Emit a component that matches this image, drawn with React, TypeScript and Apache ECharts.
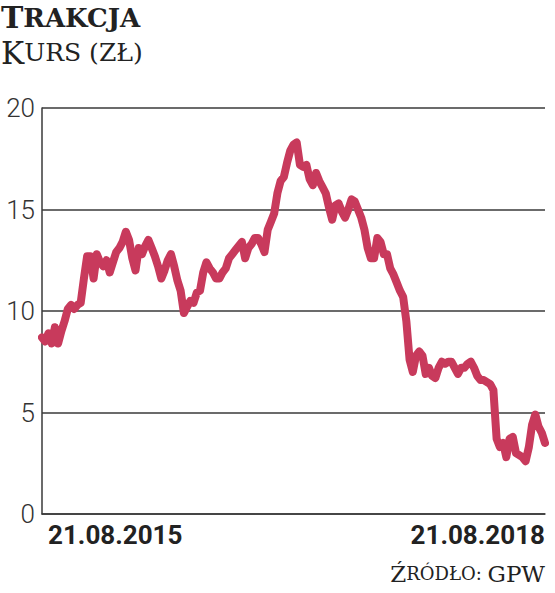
import { useEffect, useRef } from 'react';
import * as echarts from 'echarts';

// weekly closing price, 21.08.2015 .. 21.08.2018
const prices = [
  8.7, 8.5, 8.9, 8.4, 9.2, 8.4, 9.0, 9.5, 10.1, 10.3,
  10.1, 10.3, 10.4, 11.6, 12.7, 12.7, 11.6, 12.8, 12.4, 12.2,
  12.5, 11.9, 12.4, 12.9, 13.1, 13.4, 13.9, 13.5, 12.6, 12.0,
  13.1, 12.8, 13.2, 13.5, 13.1, 12.7, 12.2, 11.6, 12.0, 12.5,
  12.8, 12.2, 11.5, 11.0, 9.9, 10.2, 10.5, 10.4, 10.9, 11.0,
  11.9, 12.4, 12.1, 11.9, 11.6, 11.6, 11.9, 12.1, 12.6, 12.8,
  13.0, 13.2, 13.4, 12.6, 13.1, 13.3, 13.6, 13.6, 13.3, 12.9,
  14.0, 14.4, 14.8, 15.8, 16.4, 16.6, 17.3, 17.9, 18.2, 18.3,
  17.2, 17.1, 17.2, 16.5, 16.2, 16.8, 16.4, 16.1, 15.8, 15.1,
  14.5, 15.2, 15.3, 14.9, 14.6, 15.0, 15.5, 15.4, 15.0, 14.6,
  14.0, 13.1, 12.6, 12.6, 13.6, 13.4, 12.8, 12.8, 12.1, 11.8,
  11.4, 11.0, 10.7, 9.5, 7.6, 7.0, 7.8, 8.0, 7.8, 6.9,
  7.2, 6.8, 6.7, 7.2, 7.5, 7.4, 7.5, 7.5, 7.2, 6.9,
  7.2, 7.2, 7.4, 7.5, 7.2, 6.8, 6.6, 6.6, 6.5, 6.4,
  6.1, 3.7, 3.3, 3.5, 2.8, 3.7, 3.8, 3.0, 2.9, 2.8,
  2.6, 3.3, 4.4, 4.9, 4.3, 4.0, 3.5,
];

const startLabel = '21.08.2015';
const endLabel = '21.08.2018';
const yTicks = [0, 5, 10, 15, 20];

const titleText = 'Trakcja';
const subtitleText = 'Kurs (zł)';
const sourceText = 'Źródło: GPW';

const LINE = '#c83a5c';
const INK = '#222';
const GRIDC = '#3a3a3a';

// small caps: capitals stay big, lower-case letters become smaller capitals
function smallCaps(text: string, big: string, small: string) {
  let out = '';
  let run = '';
  let runBig = false;
  const flush = () => {
    if (run) out += `{${runBig ? big : small}|${run}}`;
    run = '';
  };
  for (const ch of text) {
    const isBig = ch !== ch.toLowerCase();
    if (isBig !== runBig) {
      flush();
      runBig = isBig;
    }
    run += ch.toUpperCase();
  }
  flush();
  return out;
}

export default function App() {
  const chartRef = useRef<HTMLDivElement | null>(null);

  useEffect(() => {
    document.body.style.margin = '0';
    if (!chartRef.current) return;
    const chart = echarts.init(chartRef.current, null, { renderer: 'svg' });

    const last = prices.length - 1;
    const categories = prices.map((_, i) =>
      i === 0 ? startLabel : i === last ? endLabel : String(i)
    );

    const serif = 'DejaVu Serif';

    chart.setOption({
      animation: false,
      backgroundColor: '#fff',
      title: [
        {
          left: 1,
          top: 0,
          padding: 0,
          text:
            smallCaps(titleText, 'tb', 'ts') + '\n' + smallCaps(subtitleText, 'kb', 'ks'),
          textStyle: {
            rich: {
              tb: { fontFamily: serif, fontWeight: 'bold', fontSize: 30, lineHeight: 35, color: INK },
              ts: { fontFamily: serif, fontWeight: 'bold', fontSize: 26, lineHeight: 35, color: INK },
              kb: { fontFamily: serif, fontWeight: 'normal', fontSize: 31, lineHeight: 35, color: INK },
              ks: { fontFamily: serif, fontWeight: 'normal', fontSize: 25, lineHeight: 35, color: INK },
            },
          },
        },
        {
          right: 10,
          top: 562,
          padding: 0,
          text: smallCaps(sourceText, 'sb', 'ss'),
          textStyle: {
            rich: {
              sb: { fontFamily: serif, fontWeight: 'normal', fontSize: 23, color: INK },
              ss: { fontFamily: serif, fontWeight: 'normal', fontSize: 18, color: INK },
            },
          },
        },
      ],
      grid: { left: 42, right: 10, top: 108, bottom: 79 },
      xAxis: {
        type: 'category',
        data: categories,
        boundaryGap: false,
        axisLine: { show: true, lineStyle: { color: GRIDC, width: 1.5 } },
        axisTick: { show: false },
        axisLabel: {
          interval: (index: number) => index === 0 || index === last,
          alignMinLabel: 'left',
          alignMaxLabel: 'right',
          margin: 8,
          padding: [0, 0, 0, 6],
          fontFamily: 'Roboto',
          fontWeight: 'bold',
          fontSize: 26,
          color: INK,
        },
      },
      yAxis: {
        type: 'value',
        min: yTicks[0],
        max: yTicks[yTicks.length - 1],
        interval: 5,
        axisLine: { show: true, lineStyle: { color: GRIDC, width: 1.5 } },
        axisTick: { show: false },
        splitLine: { lineStyle: { color: GRIDC, width: 1.5 } },
        axisLabel: {
          margin: 7,
          fontFamily: 'Roboto',
          fontWeight: 300,
          fontSize: 26,
          color: '#333',
        },
      },
      series: [
        {
          type: 'line',
          data: prices,
          showSymbol: false,
          lineStyle: { color: LINE, width: 8, cap: 'round', join: 'round' },
        },
      ],
    });

    return () => {
      chart.dispose();
    };
  }, []);

  return <div ref={chartRef} style={{ width: 555, height: 593 }} />;
}
